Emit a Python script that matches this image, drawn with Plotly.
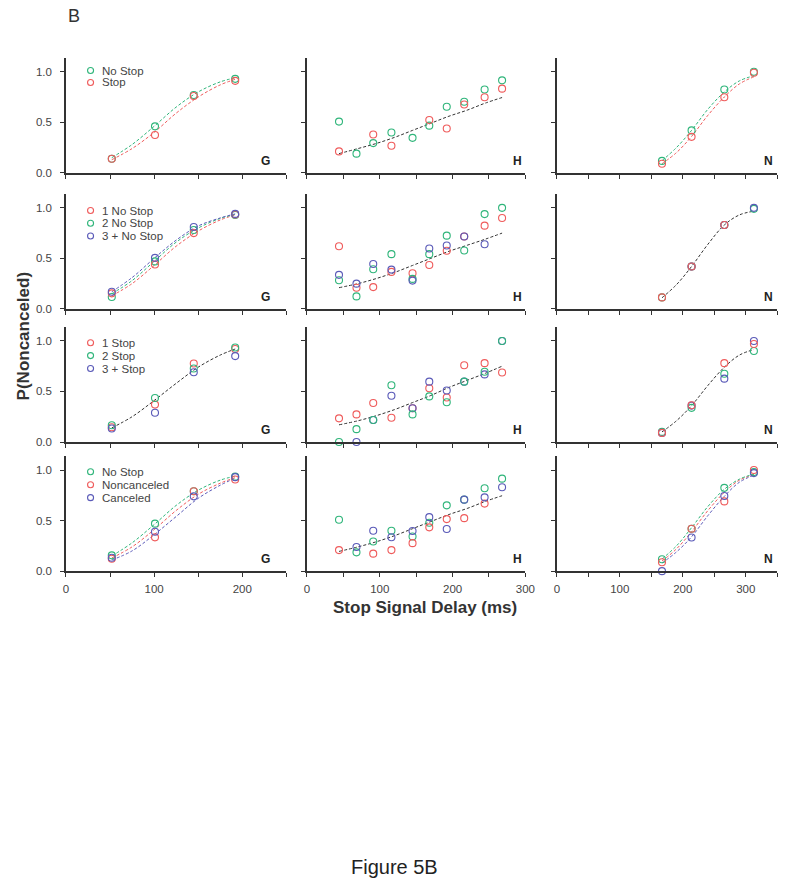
import plotly.graph_objects as go

W, H = 800, 891
GREEN = "#2fb57a"
RED = "#ef5b5b"
BLUE = "#5a5ab8"
BLACK = "#333333"
TXT = "#444444"

# ---------------- data ----------------
G_X = [52, 101, 145, 192]
H_X = [44, 68, 91, 116, 145, 168, 192, 216, 244, 268]
N_X = [167, 214, 266, 313]

G_FIT_X = [52, 75, 100, 125, 150, 175, 192]
H_FIT_X = [44, 70, 95, 120, 145, 170, 195, 220, 245, 268]
N_FIT_X = [167, 190, 214, 240, 266, 290, 313]

# Row 1: No Stop / Stop
r1_G_nostop = [0.14, 0.46, 0.77, 0.93]
r1_G_stop = [0.14, 0.375, 0.76, 0.91]
r1_G_fit_nostop = [0.15, 0.28, 0.46, 0.65, 0.80, 0.90, 0.94]
r1_G_fit_stop = [0.13, 0.24, 0.40, 0.59, 0.75, 0.87, 0.925]

r1_H_nostop_x = [44, 68, 91, 116, 145, 168, 192, 216, 244, 268]
r1_H_nostop = [0.507, 0.19, 0.294, 0.399, 0.346, 0.467, 0.654, 0.703, 0.824, 0.915]
r1_H_stop_x = [44, 91, 116, 168, 192, 216, 244, 268]
r1_H_stop = [0.212, 0.379, 0.268, 0.523, 0.438, 0.676, 0.748, 0.833]
r1_H_fit = [0.19, 0.24, 0.29, 0.35, 0.42, 0.49, 0.56, 0.62, 0.69, 0.745]

r1_N_nostop = [0.118, 0.42, 0.824, 1.0]
r1_N_stop = [0.09, 0.356, 0.748, 0.99]
r1_N_fit_nostop = [0.12, 0.25, 0.42, 0.63, 0.80, 0.91, 0.96]
r1_N_fit_stop = [0.09, 0.20, 0.36, 0.57, 0.75, 0.88, 0.95]

# Row 2: 1 No Stop / 2 No Stop / 3 + No Stop
r2_G_1 = [0.154, 0.44, 0.75, 0.934]
r2_G_2 = [0.118, 0.47, 0.78, 0.93]
r2_G_3 = [0.17, 0.505, 0.81, 0.94]
r2_G_fit_1 = [0.13, 0.25, 0.43, 0.62, 0.77, 0.88, 0.93]
r2_G_fit_2 = [0.15, 0.28, 0.47, 0.66, 0.80, 0.895, 0.935]
r2_G_fit_3 = [0.17, 0.31, 0.50, 0.68, 0.82, 0.90, 0.94]

r2_H_1_x = [44, 68, 91, 116, 145, 168, 192, 216, 244, 268]
r2_H_1 = [0.62, 0.21, 0.216, 0.366, 0.353, 0.435, 0.575, 0.716, 0.824, 0.90]
r2_H_2_x = [44, 68, 91, 116, 145, 168, 192, 216, 244, 268]
r2_H_2 = [0.284, 0.124, 0.392, 0.542, 0.297, 0.542, 0.725, 0.578, 0.938, 1.0]
r2_H_3_x = [44, 68, 91, 116, 145, 168, 192, 216, 244]
r2_H_3 = [0.337, 0.25, 0.444, 0.389, 0.28, 0.598, 0.627, 0.716, 0.64]
r2_H_fit = [0.21, 0.25, 0.30, 0.36, 0.43, 0.50, 0.57, 0.63, 0.69, 0.75]

r2_N_1_x = [167, 214, 266]
r2_N_1 = [0.114, 0.42, 0.83]
r2_N_2_x = [167, 214, 266, 313]
r2_N_2 = [0.114, 0.42, 0.83, 0.99]
r2_N_3_x = [214, 266, 313]
r2_N_3 = [0.42, 0.83, 1.0]
r2_N_fit = [0.11, 0.24, 0.42, 0.64, 0.83, 0.93, 0.967]

# Row 3: 1 Stop / 2 Stop / 3 + Stop
r3_G_1 = [0.146, 0.37, 0.776, 0.92]
r3_G_2 = [0.166, 0.435, 0.727, 0.935]
r3_G_3 = [0.133, 0.29, 0.69, 0.85]
r3_G_fit = [0.14, 0.25, 0.41, 0.58, 0.74, 0.86, 0.92]

r3_H_1_x = [44, 68, 91, 116, 145, 168, 192, 216, 244, 268]
r3_H_1 = [0.234, 0.273, 0.386, 0.24, 0.334, 0.532, 0.44, 0.76, 0.78, 0.688]
r3_H_2_x = [44, 68, 91, 116, 145, 168, 192, 216, 244, 268]
r3_H_2 = [0.0, 0.127, 0.218, 0.562, 0.273, 0.451, 0.393, 0.597, 0.695, 1.0]
r3_H_3_x = [68, 91, 116, 145, 168, 192, 216, 244, 268]
r3_H_3 = [0.0, 0.218, 0.458, 0.334, 0.597, 0.51, 0.597, 0.669, 1.0]
r3_H_fit = [0.17, 0.21, 0.26, 0.32, 0.39, 0.46, 0.54, 0.61, 0.68, 0.75]

r3_N_1 = [0.09, 0.364, 0.78, 0.97]
r3_N_2 = [0.10, 0.338, 0.675, 0.90]
r3_N_3 = [0.09, 0.36, 0.627, 1.0]
r3_N_fit = [0.10, 0.21, 0.36, 0.56, 0.74, 0.86, 0.915]

# Row 4: No Stop / Noncanceled / Canceled
r4_G_nostop = [0.156, 0.47, 0.79, 0.935]
r4_G_nonc = [0.123, 0.334, 0.79, 0.906]
r4_G_canc = [0.133, 0.39, 0.74, 0.93]
r4_G_fit_nostop = [0.15, 0.28, 0.46, 0.65, 0.80, 0.90, 0.94]
r4_G_fit_nonc = [0.13, 0.24, 0.41, 0.60, 0.76, 0.87, 0.925]
r4_G_fit_canc = [0.11, 0.20, 0.36, 0.54, 0.72, 0.85, 0.92]

r4_H_nostop_x = [44, 68, 91, 116, 145, 168, 192, 216, 244, 268]
r4_H_nostop = [0.508, 0.186, 0.293, 0.40, 0.342, 0.479, 0.651, 0.707, 0.82, 0.915]
r4_H_nonc_x = [44, 91, 116, 145, 168, 192, 216, 244]
r4_H_nonc = [0.208, 0.173, 0.208, 0.277, 0.433, 0.515, 0.524, 0.668]
r4_H_canc_x = [68, 91, 116, 145, 168, 192, 216, 244, 268]
r4_H_canc = [0.238, 0.40, 0.335, 0.397, 0.534, 0.417, 0.707, 0.73, 0.83]
r4_H_fit = [0.195, 0.24, 0.29, 0.35, 0.42, 0.49, 0.56, 0.62, 0.69, 0.746]

r4_N_nostop = [0.117, 0.42, 0.824, 0.98]
r4_N_nonc = [0.088, 0.42, 0.69, 1.0]
r4_N_canc = [0.0, 0.332, 0.743, 0.97]
r4_N_fit_nostop = [0.12, 0.25, 0.43, 0.64, 0.81, 0.91, 0.96]
r4_N_fit_nonc = [0.10, 0.22, 0.39, 0.60, 0.78, 0.90, 0.955]
r4_N_fit_canc = [0.08, 0.19, 0.34, 0.55, 0.74, 0.88, 0.95]

legend_labels = [
    [("No Stop", GREEN), ("Stop", RED)],
    [("1 No Stop", RED), ("2 No Stop", GREEN), ("3 + No Stop", BLUE)],
    [("1 Stop", RED), ("2 Stop", GREEN), ("3 + Stop", BLUE)],
    [("No Stop", GREEN), ("Noncanceled", RED), ("Canceled", BLUE)],
]
panel_names = ["G", "H", "N"]
x_ranges = [[0, 250], [0, 300], [0, 350]]
x_tickvals = [[0, 50, 100, 150, 200, 250], [0, 50, 100, 150, 200, 250, 300],
              [0, 50, 100, 150, 200, 250, 300, 350]]
x_ticklabels = [["0", "", "100", "", "200", ""], ["0", "", "100", "", "200", "", "300"],
                ["0", "", "100", "", "200", "", "300", ""]]
name_pos_x = [226, 289, 336]

# ---------------- layout geometry (pixels) ----------------
col_px = [(64, 288), (309, 531), (563, 787)]
row_px = [(58, 174), (195, 311), (329, 445), (459, 575)]

fig = go.Figure()


def axid(r, c):
    n = r * 3 + c + 1
    return ("x" if n == 1 else f"x{n}"), ("y" if n == 1 else f"y{n}")


def pts(r, c, x, y, color):
    xa, ya = axid(r, c)
    fig.add_trace(go.Scatter(x=x, y=y, mode="markers", xaxis=xa, yaxis=ya, showlegend=False,
                             cliponaxis=False,
                             marker=dict(symbol="circle-open", size=7, color=color,
                                         line=dict(width=1.1, color=color))))


def fit(r, c, x, y, color):
    xa, ya = axid(r, c)
    fig.add_trace(go.Scatter(x=x, y=y, mode="lines", xaxis=xa, yaxis=ya, showlegend=False,
                             line=dict(color=color, width=1, dash="3px,2px", shape="spline",
                                       smoothing=1.0)))


# Row 1
fit(0, 0, G_FIT_X, r1_G_fit_stop, RED); fit(0, 0, G_FIT_X, r1_G_fit_nostop, GREEN)
pts(0, 0, G_X, r1_G_nostop, GREEN); pts(0, 0, G_X, r1_G_stop, RED)
fit(0, 1, H_FIT_X, r1_H_fit, BLACK)
pts(0, 1, r1_H_nostop_x, r1_H_nostop, GREEN); pts(0, 1, r1_H_stop_x, r1_H_stop, RED)
fit(0, 2, N_FIT_X, r1_N_fit_stop, RED); fit(0, 2, N_FIT_X, r1_N_fit_nostop, GREEN)
pts(0, 2, N_X, r1_N_nostop, GREEN); pts(0, 2, N_X, r1_N_stop, RED)

# Row 2
fit(1, 0, G_FIT_X, r2_G_fit_1, RED); fit(1, 0, G_FIT_X, r2_G_fit_2, GREEN)
fit(1, 0, G_FIT_X, r2_G_fit_3, BLUE)
pts(1, 0, G_X, r2_G_2, GREEN); pts(1, 0, G_X, r2_G_1, RED); pts(1, 0, G_X, r2_G_3, BLUE)
fit(1, 1, H_FIT_X, r2_H_fit, BLACK)
pts(1, 1, r2_H_1_x, r2_H_1, RED); pts(1, 1, r2_H_2_x, r2_H_2, GREEN)
pts(1, 1, r2_H_3_x, r2_H_3, BLUE)
fit(1, 2, N_FIT_X, r2_N_fit, BLACK)
pts(1, 2, r2_N_2_x, r2_N_2, GREEN); pts(1, 2, r2_N_3_x, r2_N_3, BLUE)
pts(1, 2, r2_N_1_x, r2_N_1, RED)

# Row 3
fit(2, 0, G_FIT_X, r3_G_fit, BLACK)
pts(2, 0, G_X, r3_G_1, RED); pts(2, 0, G_X, r3_G_2, GREEN); pts(2, 0, G_X, r3_G_3, BLUE)
fit(2, 1, H_FIT_X, r3_H_fit, BLACK)
pts(2, 1, r3_H_1_x, r3_H_1, RED); pts(2, 1, r3_H_3_x, r3_H_3, BLUE)
pts(2, 1, r3_H_2_x, r3_H_2, GREEN)
fit(2, 2, N_FIT_X, r3_N_fit, BLACK)
pts(2, 2, N_X, r3_N_2, GREEN); pts(2, 2, N_X, r3_N_3, BLUE); pts(2, 2, N_X, r3_N_1, RED)

# Row 4
fit(3, 0, G_FIT_X, r4_G_fit_canc, BLUE); fit(3, 0, G_FIT_X, r4_G_fit_nonc, RED)
fit(3, 0, G_FIT_X, r4_G_fit_nostop, GREEN)
pts(3, 0, G_X, r4_G_nostop, GREEN); pts(3, 0, G_X, r4_G_nonc, RED); pts(3, 0, G_X, r4_G_canc, BLUE)
fit(3, 1, H_FIT_X, r4_H_fit, BLACK)
pts(3, 1, r4_H_nostop_x, r4_H_nostop, GREEN); pts(3, 1, r4_H_nonc_x, r4_H_nonc, RED)
pts(3, 1, r4_H_canc_x, r4_H_canc, BLUE)
fit(3, 2, N_FIT_X, r4_N_fit_canc, BLUE); fit(3, 2, N_FIT_X, r4_N_fit_nonc, RED)
fit(3, 2, N_FIT_X, r4_N_fit_nostop, GREEN)
pts(3, 2, N_X, r4_N_nostop, GREEN); pts(3, 2, N_X, r4_N_nonc, RED); pts(3, 2, N_X, r4_N_canc, BLUE)

# ---------------- axes ----------------
layout = {}
annotations = []
shapes = []
for r in range(4):
    for c in range(3):
        n = r * 3 + c + 1
        xk = "xaxis" if n == 1 else f"xaxis{n}"
        yk = "yaxis" if n == 1 else f"yaxis{n}"
        xa, ya = axid(r, c)
        x0, x1 = col_px[c]
        y0, y1 = row_px[r]
        layout[xk] = dict(
            domain=[x0 / W, x1 / W], range=x_ranges[c], anchor=ya,
            showline=True, linecolor=BLACK, linewidth=1.5, ticks="outside", ticklen=4,
            tickwidth=1.2, tickcolor=BLACK, tickvals=x_tickvals[c],
            ticktext=x_ticklabels[c] if r == 3 else [""] * len(x_tickvals[c]),
            showticklabels=(r == 3), showgrid=False, zeroline=False, fixedrange=True,
            tickfont=dict(family="Arial, Liberation Sans", size=11.5, color=TXT),
            ticklabelstandoff=2,
        )
        layout[yk] = dict(
            domain=[1 - y1 / H, 1 - y0 / H], range=[0, 1.14], anchor=xa,
            showline=True, linecolor=BLACK, linewidth=1.5, ticks="outside", ticklen=4,
            tickwidth=1.2, tickcolor=BLACK, tickvals=[0, 0.5, 1.0],
            ticktext=["0.0", "0.5", "1.0"], showticklabels=(c == 0),
            showgrid=False, zeroline=False, fixedrange=True,
            tickfont=dict(family="Arial, Liberation Sans", size=11.5, color=TXT),
            ticklabelstandoff=6,
        )
        # panel name
        annotations.append(dict(x=name_pos_x[c], y=0.12, xref=xa, yref=ya, text=panel_names[c],
                                showarrow=False, xanchor="center", yanchor="middle",
                                font=dict(family="Arial, Liberation Sans", size=12,
                                          color="#222222", weight="bold")))
    # legend (row r, col 0)
    top_px = [71, 212, 345, 475][r]
    step = [12, 12.8, 13, 13][r]
    for i, (lab, colr) in enumerate(legend_labels[r]):
        ypx = top_px + i * step
        yfrac = 1 - ypx / H
        xm = 89 / W
        shapes.append(dict(type="circle", xref="paper", yref="paper", xsizemode="pixel",
                           ysizemode="pixel", xanchor=xm, yanchor=yfrac, x0=-3, x1=3, y0=-3, y1=3,
                           line=dict(color=colr, width=1.1)))
        annotations.append(dict(x=99 / W, y=yfrac, xref="paper", yref="paper", text=lab,
                                showarrow=False, xanchor="left", yanchor="middle",
                                font=dict(family="Arial, Liberation Sans", size=11.5, color=TXT)))

annotations += [
    dict(x=21 / W, y=1 - 339 / H, xref="paper", yref="paper", text="P(Noncanceled)",
         textangle=-90, showarrow=False, xanchor="center", yanchor="middle",
         font=dict(family="Arial, Liberation Sans", size=17, color="#333333", weight="bold")),
    dict(x=429 / W, y=1 - 612 / H, xref="paper", yref="paper", text="Stop Signal Delay (ms)",
         showarrow=False, xanchor="center", yanchor="middle",
         font=dict(family="Arial, Liberation Sans", size=17, color="#333333", weight="bold")),
    dict(x=64 / W, y=1 - 16 / H, xref="paper", yref="paper", text="B",
         showarrow=False, xanchor="left", yanchor="middle",
         font=dict(family="Arial, Liberation Sans", size=18, color="#333333")),
    dict(x=398 / W, y=1 - 873 / H, xref="paper", yref="paper", text="Figure 5B",
         showarrow=False, xanchor="center", yanchor="middle",
         font=dict(family="Arial, Liberation Sans", size=20, color="#222222")),
]

fig.update_layout(
    width=W, height=H, margin=dict(l=0, r=0, t=0, b=0, pad=0),
    paper_bgcolor="white", plot_bgcolor="white", showlegend=False,
    annotations=annotations, shapes=shapes, **layout,
)

post = """
document.documentElement.style.margin = '0';
document.documentElement.style.overflow = 'hidden';
document.body.style.margin = '0';
document.body.style.overflow = 'hidden';
"""
fig.write_html("out.html", config={"displayModeBar": False}, post_script=post)
